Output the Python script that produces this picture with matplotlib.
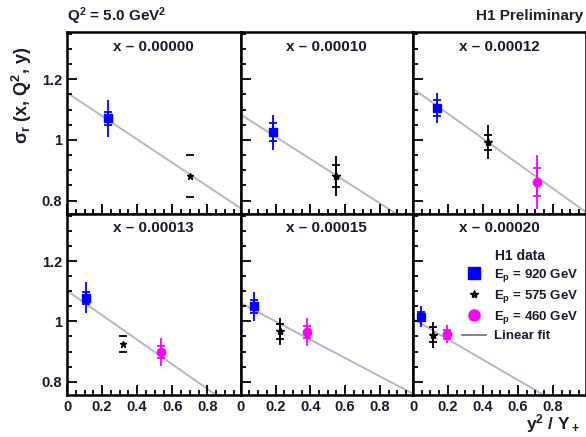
import matplotlib
matplotlib.use("Agg")
import matplotlib.pyplot as plt
import numpy as np
from matplotlib.ticker import MultipleLocator, FixedLocator
from matplotlib.lines import Line2D

plt.rcParams['font.family'] = ['Liberation Sans', 'DejaVu Sans']
plt.rcParams['font.weight'] = 'bold'
plt.rcParams['mathtext.fontset'] = 'custom'
plt.rcParams['mathtext.rm'] = 'Liberation Sans:bold'
plt.rcParams['mathtext.it'] = 'Liberation Sans:bold'
plt.rcParams['mathtext.bf'] = 'Liberation Sans:bold'

# ---- data ----
panel_labels = ["x \u2013 0.00000", "x \u2013 0.00010", "x \u2013 0.00012",
                "x \u2013 0.00013", "x \u2013 0.00015", "x \u2013 0.00020"]

# E_p = 920 GeV (blue squares): x, y, inner err, outer err
e920_x = [0.235, 0.186, 0.14, 0.11, 0.077, 0.044]
e920_y = [1.071, 1.026, 1.106, 1.079, 1.050, 1.015]
e920_ei = [0.021, 0.030, 0.026, 0.020, 0.021, 0.015]
e920_eo = [0.062, 0.058, 0.050, 0.050, 0.048, 0.035]

# E_p = 575 GeV (black stars)
e575_x = [0.70, 0.548, 0.43, 0.32, 0.225, 0.114]
e575_y = [0.880, 0.880, 0.993, 0.926, 0.967, 0.956]
e575_ei = [0.0, 0.036, 0.025, 0.0, 0.026, 0.024]
e575_eo = [0.069, 0.066, 0.057, 0.026, 0.044, 0.043]

# E_p = 460 GeV (magenta circles); None = no point
e460_x = [None, None, 0.711, 0.538, 0.38, 0.195]
e460_y = [None, None, 0.862, 0.899, 0.965, 0.958]
e460_ei = [None, None, 0.047, 0.021, 0.020, 0.015]
e460_eo = [None, None, 0.088, 0.047, 0.047, 0.031]

# linear fit: intercept, slope
fit_a = [1.156, 1.084, 1.169, 1.102, 1.061, 1.008]
fit_b = [-0.385, -0.366, -0.411, -0.407, -0.304, -0.337]

fig = plt.figure(figsize=(5.86, 4.37), dpi=100)
W, H = 586.0, 437.0
xs = [67, 240.7, 413, 586]
ys_top = [32, 214, 395]

txtcol = '#1a1a2e'
linecol = '#b4b4cc'

axes = []
for r in range(2):
    for c in range(3):
        x0, x1 = xs[c], xs[c + 1]
        y0, y1 = ys_top[r], ys_top[r + 1]
        ax = fig.add_axes([x0 / W, 1 - y1 / H, (x1 - x0) / W, (y1 - y0) / H])
        axes.append(ax)

ew = 1.3
cs = 3.2
for i, ax in enumerate(axes):
    r, c = divmod(i, 3)
    ax.set_xlim(0, 0.99)
    ax.set_ylim(0.756, 1.356)
    for s in ax.spines.values():
        s.set_linewidth(1.8)
    ax.xaxis.set_major_locator(FixedLocator([0, 0.2, 0.4, 0.6, 0.8]))
    ax.xaxis.set_minor_locator(MultipleLocator(0.05))
    ax.yaxis.set_major_locator(FixedLocator([0.8, 1.0, 1.2]))
    ax.yaxis.set_minor_locator(MultipleLocator(0.05))
    ax.tick_params(which='both', direction='in', top=False, right=False, width=1.3)
    ax.tick_params(which='major', length=7, labelsize=10.5, labelcolor=txtcol)
    ax.tick_params(which='minor', length=3.5)
    if c == 0:
        ax.set_yticklabels(['0.8', '1', '1.2'])
    else:
        ax.set_yticklabels([])
    if r == 1:
        ax.set_xticklabels(['0', '0.2', '0.4', '0.6', '0.8'])
    else:
        ax.set_xticklabels([])

    # fit line
    xx = np.array([0, 0.99])
    ax.plot(xx, fit_a[i] + fit_b[i] * xx, color=linecol, lw=1.4, zorder=1)

    # 920
    ax.errorbar(e920_x[i], e920_y[i], yerr=e920_eo[i], fmt='none', ecolor='#0000ff',
                elinewidth=ew, capsize=0, zorder=3)
    ax.errorbar(e920_x[i], e920_y[i], yerr=e920_ei[i], fmt='s', color='#0000ff',
                ms=6, elinewidth=ew, capsize=cs, capthick=ew, zorder=4)
    # 575
    if e575_ei[i] == 0:
        ax.errorbar(e575_x[i], e575_y[i], yerr=e575_eo[i], fmt='*', color='black',
                    ms=5, elinewidth=0, capsize=cs, capthick=ew, zorder=4)
    else:
        ax.errorbar(e575_x[i], e575_y[i], yerr=e575_eo[i], fmt='none', ecolor='black',
                    elinewidth=ew, capsize=0, zorder=3)
        ax.errorbar(e575_x[i], e575_y[i], yerr=e575_ei[i], fmt='*', color='black',
                    ms=6, elinewidth=ew, capsize=cs, capthick=ew, zorder=4)
    # 460
    if e460_x[i] is not None:
        ax.errorbar(e460_x[i], e460_y[i], yerr=e460_eo[i], fmt='none', ecolor='#ff00ff',
                    elinewidth=ew, capsize=0, zorder=3)
        ax.errorbar(e460_x[i], e460_y[i], yerr=e460_ei[i], fmt='o', color='#ff00ff',
                    ms=6, elinewidth=ew, capsize=cs, capthick=ew, zorder=4)

    ax.text(0.5, 0.92, panel_labels[i], transform=ax.transAxes, ha='center', va='center',
            fontsize=11, fontweight='bold', color=txtcol)

# legend in last panel
handles = [Line2D([], [], ls='none', marker='s', color='#0000ff', ms=8),
           Line2D([], [], ls='none', marker='*', color='black', ms=6),
           Line2D([], [], ls='none', marker='o', color='#ff00ff', ms=8),
           Line2D([], [], color='#808090', lw=1.4)]
labels = ['E$_\\mathrm{p}$ = 920 GeV', 'E$_\\mathrm{p}$ = 575 GeV',
          'E$_\\mathrm{p}$ = 460 GeV', 'Linear fit']
leg = axes[5].legend(handles, labels, title='H1 data', loc='upper right',
                     bbox_to_anchor=(1.0, 0.85), frameon=False, fontsize=9.5,
                     title_fontsize=10, handlelength=1.8, handletextpad=0.6,
                     labelspacing=0.3, borderpad=0.1)
leg.get_title().set_fontweight('bold')
leg.get_title().set_color(txtcol)
for t in leg.get_texts():
    t.set_color(txtcol)

fig.text(67 / W, 1 - 16 / H, 'Q$^2$ = 5.0 GeV$^2$', ha='left', va='center',
         fontsize=11, fontweight='bold', color=txtcol)
fig.text(583 / W, 1 - 16 / H, 'H1 Preliminary', ha='right', va='center',
         fontsize=11, fontweight='bold', color='#2a1a2e')
fig.text(22 / W, 1 - 95 / H, '$\\sigma_r$ (x, Q$^2$, y)', ha='center', va='center',
         rotation=90, fontsize=13, fontweight='bold', color=txtcol)
fig.text(580 / W, 1 - 424 / H, 'y$^2$ / Y$_+$', ha='right', va='center',
         fontsize=12.5, fontweight='bold', color=txtcol)

fig.savefig('out.png', dpi=100)
